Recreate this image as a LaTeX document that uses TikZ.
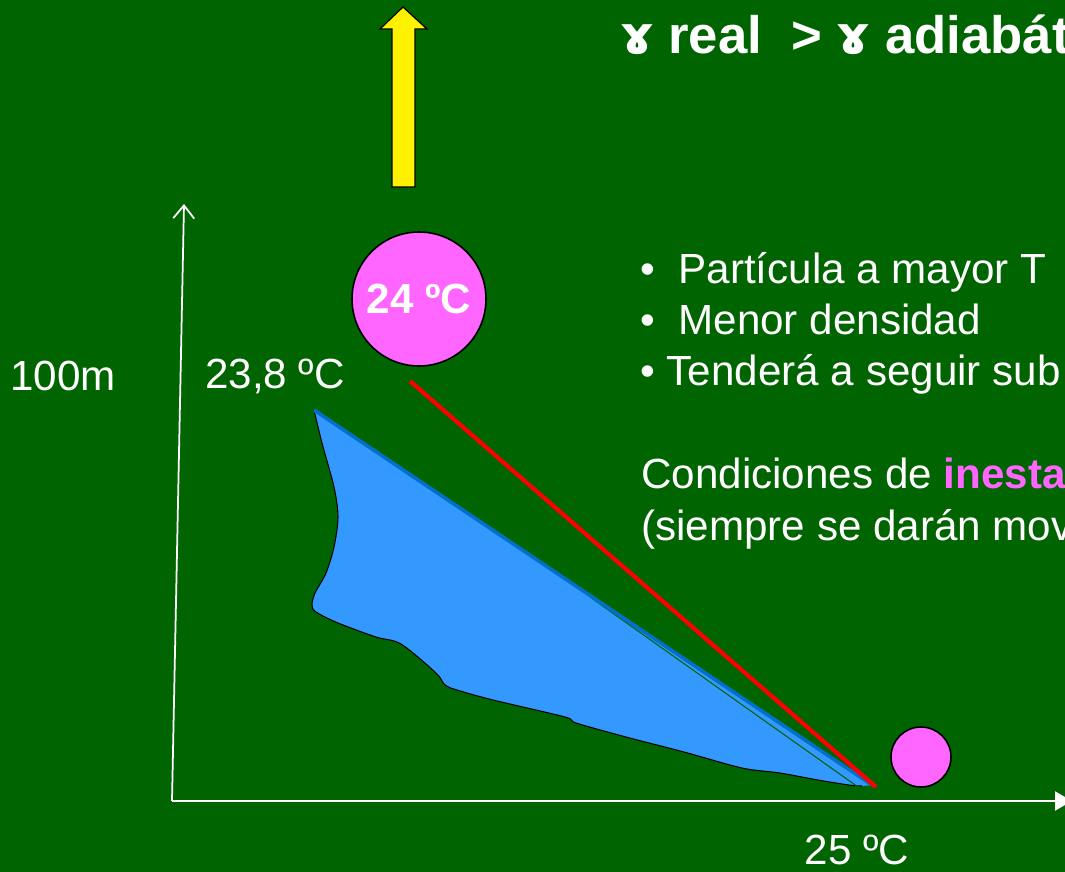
\documentclass[tikz,border=0pt]{standalone}
\usepackage{fontspec}
\setmainfont{Liberation Sans}
\newfontfamily\ipafont{DejaVu Sans}
\usetikzlibrary{shapes, positioning, arrows, arrows.meta, calc}

\definecolor{bggreen}{RGB}{0,100,0}
\definecolor{parcelpink}{RGB}{255,102,255}
\definecolor{cloudblue}{RGB}{51,153,255}
\definecolor{edgeblue}{RGB}{0,112,204}

\tikzset{
  txt/.style={text=white, font=\fontsize{24}{28}\selectfont, inner sep=0},
  parcel/.style={circle, draw=black, line width=0.9pt, fill=parcelpink, inner sep=0},
  axis/.style={white, line width=1pt}
}

\begin{document}
\begin{tikzpicture}[x=0.02cm, y=-0.02cm]
		\fill[bggreen] (0,0) rectangle (1065,872);
		\useasboundingbox (0,0) rectangle (1065,872);

		% axes
		\coordinate (o) at (172,801);
		\coordinate (ytop) at (184,204);
		\coordinate (xend) at (1072,801);
		\draw[axis, -{Straight Barb[length=0.26cm, width=0.42cm]}] (o) -- (ytop);
		\draw[axis, line width=1.2pt, -{Triangle[length=0.34cm, width=0.38cm]}] (o) -- (xend);

		% cloud
		\coordinate (ctop) at (314,410);
		\coordinate (ctip) at (872,785);
		\fill[cloudblue] plot[smooth, tension=0.5] coordinates {(314,410) (322,443) (334,487) (338,517) (334,547) (326,573) (315,593) (312,605) (316,612) (338,623) (376,637) (401,644) (436,673) (445,685) (457,690) (493,700) (565,717) (576,723) (626,737) (684,752) (742,768) (780,773) (818,780) (849,785) (862,786)} -- (ctip) -- cycle;
		\draw[black, line width=0.6pt] plot[smooth, tension=0.5] coordinates {(314,410) (322,443) (334,487) (338,517) (334,547) (326,573) (315,593) (312,605) (316,612) (338,623) (376,637) (401,644) (436,673) (445,685) (457,690) (493,700) (565,717) (576,723) (626,737) (684,752) (742,768) (780,773) (818,780) (849,785) (862,786)};
		\draw[bggreen, line width=0.6pt] (590,597) -- (858,787);
		\draw[edgeblue, line width=2pt] (ctop) -- (ctip);

		% real lapse rate
		\coordinate (rtop) at (410,381);
		\coordinate (rend) at (876,787);
		\draw[red, line width=2.4pt] (rtop) -- (rend);

		% parcels
		\node[parcel, minimum size=2.68cm] (hot) at (419,299) {\textbf{\fontsize{24}{28}\selectfont\color{white}24 ºC}};
		\node[parcel, minimum size=1.2cm] (cold) at (921,757) {};

		% ascent arrow
		\filldraw[fill=yellow, draw=black, line width=0.7pt] (392,187) -- (392,29) -- (380,29) -- (403,7) -- (427,29) -- (415,29) -- (415,187) -- cycle;

		% labels
		\node[txt] (h) at (63,376) {100m};
		\node[txt] (t1) at (275,376) {23,8 ºC};
		\node[txt] (t0) at (857,850) {25 ºC};

		\node[txt, anchor=base west, font=\bfseries\fontsize{30}{34}\selectfont] (title) at (620,53) {{\ipafont ɤ} real \ > {\ipafont ɤ} adiabát};

		\node[txt, anchor=base west] (b1) at (640,283) {•\ \ Partícula a mayor T};
		\node[txt, anchor=base west] (b2) at (640,334) {•\ \ Menor densidad};
		\node[txt, anchor=base west] (b3) at (640,385) {• Tenderá a seguir sub};
		\node[txt, anchor=base west] (c1) at (641,488) {Condiciones de \textbf{\color{parcelpink}inesta}};
		\node[txt, anchor=base west] (c2) at (641,540) {(siempre se darán mov};
	\end{tikzpicture}
\end{document}
